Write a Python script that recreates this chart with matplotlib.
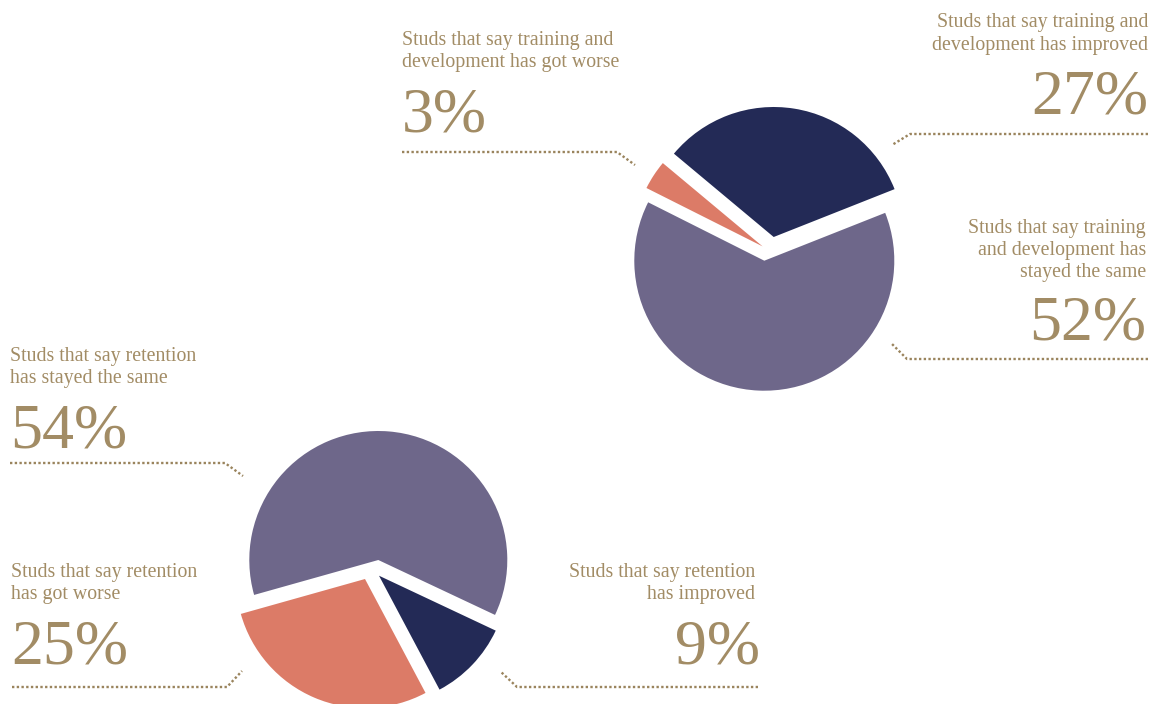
import matplotlib
matplotlib.use("Agg")
import matplotlib.pyplot as plt

# data
train_values = [27, 3, 52]          # improved, got worse, stayed the same
train_labels = ["Studs that say training and\ndevelopment has improved",
                "Studs that say training and\ndevelopment has got worse",
                "Studs that say training\nand development has\nstayed the same"]
retention_values = [54, 25, 9]      # stayed the same, got worse, improved
retention_labels = ["Studs that say retention\nhas stayed the same",
                    "Studs that say retention\nhas got worse",
                    "Studs that say retention\nhas improved"]

NAVY = "#232a56"
SALMON = "#dc7b67"
PURPLE = "#6e678a"
GOLD = "#a28c65"
W, H = 1154, 704

plt.rcParams['font.family'] = ['Liberation Serif', 'DejaVu Serif']

fig = plt.figure(figsize=(W / 100, H / 100), dpi=100)
ax = fig.add_axes([0, 0, 1, 1])


def Y(py):
    # pixel row -> data y (y up)
    return H - py


def draw_pie(values, colors, center, radius, startangle, shifts):
    wedges, _ = ax.pie(values, colors=colors, startangle=startangle,
                       center=center, radius=radius,
                       wedgeprops=dict(linewidth=0))
    # pieces are pulled apart by hand in the original, not along the mid angle
    for w, (dx, dy) in zip(wedges, shifts):
        w.set_center((center[0] + dx, center[1] + dy))


# top pie: training and development
draw_pie(train_values, [NAVY, SALMON, PURPLE], (764.3, Y(260.7)), 130, 21.6,
         [(9.4, 23.7), (-1.7, 14.3), (0, 0)])
# bottom pie: retention
draw_pie(retention_values, [PURPLE, SALMON, NAVY], (378.3, Y(560)), 129, -25.2,
         [(0, 0), (-13.3, -19), (0.7, -15.7)])


def label(text, value, x, baselines, num_base, ha, num_x=None):
    for line, b in zip(text.split("\n"), baselines):
        ax.text(x, Y(b), line, ha=ha, va="baseline", fontsize=14.3, color=GOLD)
    ax.text(num_x if num_x is not None else x, Y(num_base), f"{value}%",
            ha=ha, va="baseline", fontsize=46, color=GOLD)


def leader(pts):
    ax.plot([p[0] for p in pts], [Y(p[1]) for p in pts], color="#9a845d",
            linewidth=1.7, linestyle=(0, (1, 1.0)))


label(train_labels[1], train_values[1], 402, [45, 67], 132, "left")
leader([(402, 152), (617, 152), (635, 165)])

label(train_labels[0], train_values[0], 1148, [27, 50], 113, "right")
leader([(1148, 134), (910, 134), (892, 145)])

label(train_labels[2], train_values[2], 1146, [233, 255, 277], 340, "right")
leader([(1148, 359), (907, 359), (892, 344)])

label(retention_labels[0], retention_values[0], 10, [361, 383], 447, "left")
leader([(10, 463), (225, 463), (243, 476)])

label(retention_labels[1], retention_values[1], 11, [577, 599], 663, "left")
leader([(12, 687), (227, 687), (242, 671)])

label(retention_labels[2], retention_values[2], 755, [577, 599], 663, "right",
      num_x=760)
leader([(758, 687), (517, 687), (500, 671)])

ax.set_xlim(0, W)
ax.set_ylim(0, H)
ax.set_aspect("auto")
ax.axis("off")

fig.savefig("out.png", dpi=100, facecolor="white")
